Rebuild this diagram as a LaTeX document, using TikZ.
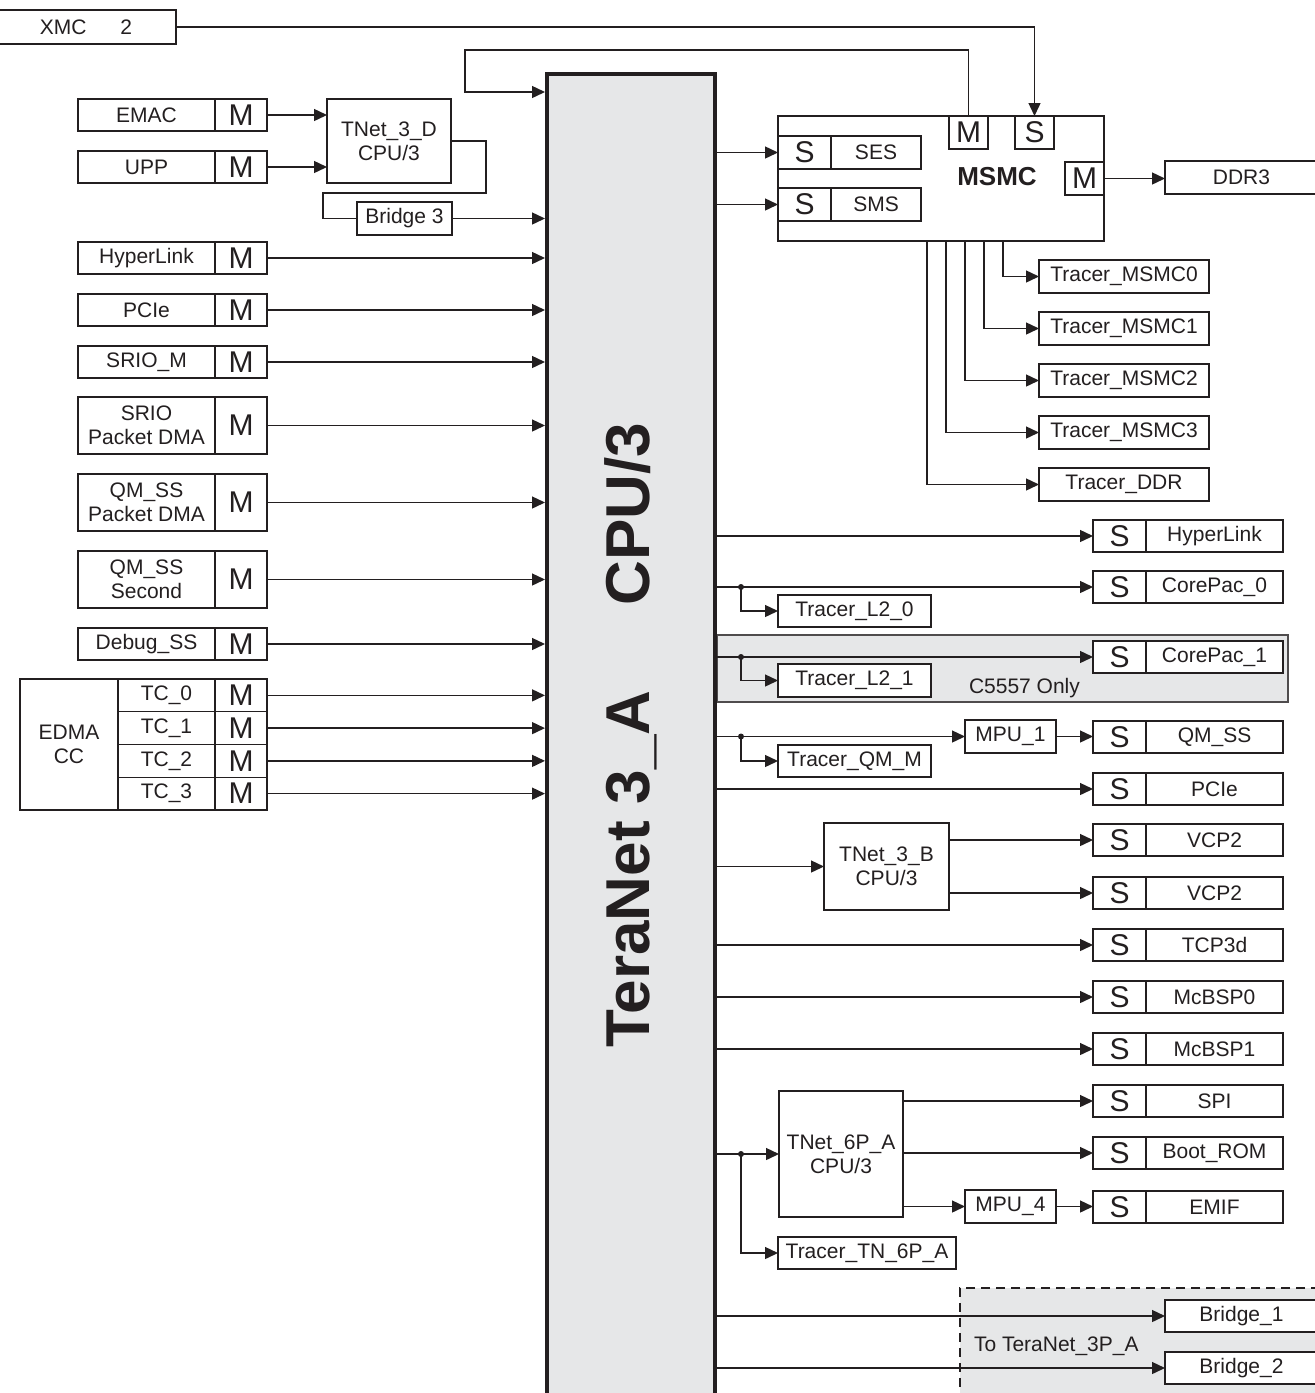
\documentclass[tikz,border=0pt]{standalone}
\usepackage{fontspec}
\setmainfont{Liberation Sans}
\usetikzlibrary{arrows.meta,positioning}
\definecolor{ink}{HTML}{231F20}
\definecolor{panelgray}{HTML}{E6E7E8}

\begin{document}
\begin{tikzpicture}[
  x=1pt, y=-1pt,
  >={Triangle[length=13pt,width=12pt]},
  every node/.style={font=\fontsize{21}{24}\selectfont, inner sep=2pt, outer sep=0pt, text=ink},
  box/.style={draw=ink, fill=white, line width=1.4pt, align=center, anchor=north west},
  blk/.style={box, minimum width=137pt, minimum height=32pt},
  port/.style={box, minimum width=52pt, minimum height=32pt, font=\fontsize{30}{30}\selectfont},
  trc/.style={box, minimum width=170pt, minimum height=33pt},
  link/.style={draw=ink, line width=1.4pt},
  every edge/.style={
    draw=ink,
    ->,
    line width=1.4pt
  }
]
  \useasboundingbox (0,0) rectangle (1315,1393);

  % Shaded zones behind everything
  \node[draw=ink!80, fill=panelgray, line width=1.4pt, anchor=north west,
        minimum width=571pt, minimum height=67pt] (c5557) at (717,635) {};
  \fill[panelgray] (960,1288) rectangle (1320,1400);
  \draw[ink, line width=1.4pt, dash pattern=on 9pt off 6pt] (1320,1288) -- (960,1288) -- (960,1400);

  % The interconnect itself
  \node[draw=ink, fill=panelgray, line width=4pt, anchor=north west, outer sep=2pt,
        minimum width=168pt, minimum height=1340pt] (cpu) at (545,72) {};
  \node[rotate=90, font=\bfseries\fontsize{62}{62}\selectfont] (cpulbl) at (631,735)
    {TeraNet 3\_A\hspace{85pt}CPU/3};

  % Masters on the left
  \node[box, minimum width=180pt, minimum height=34pt] (xmc) at (-4,10) {XMC\hspace{34pt}2};
  \node[blk] (emac) at (78,99) {EMAC};
  \node[port, right=0pt of emac] (emacm) {M};
  \node[blk] (upp) at (78,151) {UPP};
  \node[port, right=0pt of upp] (uppm) {M};
  \node[box, minimum width=124pt, minimum height=84pt] (tn3d) at (327,99) {TNet\_3\_D\\CPU/3};
  \node[box, minimum width=95pt, minimum height=33pt] (br3) at (357,202) {Bridge 3};

  \node[blk] (hlm) at (78,242) {HyperLink};
  \node[port, right=0pt of hlm] (hlmm) {M};
  \node[blk] (pcim) at (78,294) {PCIe};
  \node[port, right=0pt of pcim] (pcimm) {M};
  \node[blk] (sriom) at (78,346) {SRIO\_M};
  \node[port, right=0pt of sriom] (sriomm) {M};
  \node[blk, minimum height=57pt] (srpd) at (78,397) {SRIO\\Packet DMA};
  \node[port, minimum height=57pt, right=0pt of srpd] (srpdm) {M};
  \node[blk, minimum height=57pt] (qmpd) at (78,474) {QM\_SS\\Packet DMA};
  \node[port, minimum height=57pt, right=0pt of qmpd] (qmpdm) {M};
  \node[blk, minimum height=57pt] (qmsec) at (78,551) {QM\_SS\\Second};
  \node[port, minimum height=57pt, right=0pt of qmsec] (qmsecm) {M};
  \node[blk] (dbg) at (78,628) {Debug\_SS};
  \node[port, right=0pt of dbg] (dbgm) {M};

  % EDMA with its transfer controllers
  \node[box, minimum width=98pt, minimum height=131pt] (edma) at (20,679) {EDMA\\CC};
  \node[box, minimum width=97pt, minimum height=32.75pt] (tc0) at (118,679) {TC\_0};
  \node[box, minimum width=97pt, minimum height=32.75pt, below=0pt of tc0] (tc1) {TC\_1};
  \node[box, minimum width=97pt, minimum height=32.75pt, below=0pt of tc1] (tc2) {TC\_2};
  \node[box, minimum width=97pt, minimum height=32.75pt, below=0pt of tc2] (tc3) {TC\_3};
  \node[port, minimum height=32.75pt, right=0pt of tc0] (tc0m) {M};
  \node[port, minimum height=32.75pt, right=0pt of tc1] (tc1m) {M};
  \node[port, minimum height=32.75pt, right=0pt of tc2] (tc2m) {M};
  \node[port, minimum height=32.75pt, right=0pt of tc3] (tc3m) {M};

  % MSMC block
  \node[box, minimum width=326pt, minimum height=125pt] (msmc) at (778,116) {};
  \node[font=\bfseries\fontsize{26}{26}\selectfont] (msmclbl) at (997,177) {MSMC};
  \node[port, minimum width=53pt, minimum height=33pt] (sess) at (778,136) {S};
  \node[box, minimum width=90pt, minimum height=33pt, right=0pt of sess] (ses) {SES};
  \node[port, minimum width=53pt, minimum height=33pt] (smss) at (778,188) {S};
  \node[box, minimum width=90pt, minimum height=33pt, right=0pt of smss] (sms) {SMS};
  \node[port, minimum width=39pt, minimum height=33pt] (msmcmt) at (949,116) {M};
  \node[port, minimum width=39pt, minimum height=33pt] (msmcst) at (1015,116) {S};
  \node[port, minimum width=39pt, minimum height=33pt, anchor=north east] (msmcmr) at (1104,162) {M};
  \node[box, minimum width=153pt, minimum height=33pt] (ddr3) at (1165,161) {DDR3};

  \node[trc] (trm0) at (1039,260) {Tracer\_MSMC0};
  \node[trc] (trm1) at (1039,312) {Tracer\_MSMC1};
  \node[trc] (trm2) at (1039,364) {Tracer\_MSMC2};
  \node[trc] (trm3) at (1039,416) {Tracer\_MSMC3};
  \node[trc] (trddr) at (1039,468) {Tracer\_DDR};

  % Slaves on the right
  \node[port, minimum width=53pt] (hls) at (1093,520) {S};
  \node[blk, right=0pt of hls] (hl) {HyperLink};
  \node[port, minimum width=53pt] (cp0s) at (1093,571) {S};
  \node[blk, right=0pt of cp0s] (cp0) {CorePac\_0};
  \node[port, minimum width=53pt] (cp1s) at (1093,641) {S};
  \node[blk, right=0pt of cp1s] (cp1) {CorePac\_1};
  \node[port, minimum width=53pt] (qms) at (1093,721) {S};
  \node[blk, right=0pt of qms] (qm) {QM\_SS};
  \node[port, minimum width=53pt] (pcis) at (1093,773) {S};
  \node[blk, right=0pt of pcis] (pci) {PCIe};
  \node[port, minimum width=53pt] (vcpas) at (1093,824) {S};
  \node[blk, right=0pt of vcpas] (vcpa) {VCP2};
  \node[port, minimum width=53pt] (vcpbs) at (1093,877) {S};
  \node[blk, right=0pt of vcpbs] (vcpb) {VCP2};
  \node[port, minimum width=53pt] (tcps) at (1093,929) {S};
  \node[blk, right=0pt of tcps] (tcp) {TCP3d};
  \node[port, minimum width=53pt] (mcb0s) at (1093,981) {S};
  \node[blk, right=0pt of mcb0s] (mcb0) {McBSP0};
  \node[port, minimum width=53pt] (mcb1s) at (1093,1033) {S};
  \node[blk, right=0pt of mcb1s] (mcb1) {McBSP1};
  \node[port, minimum width=53pt] (spis) at (1093,1085) {S};
  \node[blk, right=0pt of spis] (spi) {SPI};
  \node[port, minimum width=53pt] (boots) at (1093,1137) {S};
  \node[blk, right=0pt of boots] (boot) {Boot\_ROM};
  \node[port, minimum width=53pt] (emifs) at (1093,1191) {S};
  \node[blk, right=0pt of emifs] (emif) {EMIF};

  % Tracers, MPUs and sub-switches
  \node[box, minimum width=153pt, minimum height=32pt] (tl20) at (778,595) {Tracer\_L2\_0};
  \node[box, minimum width=153pt, minimum height=33pt] (tl21) at (778,664) {Tracer\_L2\_1};
  \node[anchor=west] (c5557lbl) at (967,688) {C5557 Only};
  \node[box, minimum width=91pt, minimum height=33pt] (mpu1) at (965,720) {MPU\_1};
  \node[box, minimum width=153pt, minimum height=32pt] (tqm) at (778,745) {Tracer\_QM\_M};
  \node[box, minimum width=125pt, minimum height=87pt] (tn3b) at (824,823) {TNet\_3\_B\\CPU/3};
  \node[box, minimum width=124pt, minimum height=126pt] (tn6) at (779,1091) {TNet\_6P\_A\\CPU/3};
  \node[box, minimum width=91pt, minimum height=33pt] (mpu4) at (965,1190) {MPU\_4};
  \node[box, minimum width=178pt, minimum height=32pt] (ttn6) at (778,1237) {Tracer\_TN\_6P\_A};

  % Bridges out to the other switch
  \node[box, minimum width=153pt, minimum height=32pt] (br1) at (1165,1300) {Bridge\_1};
  \node[box, minimum width=153pt, minimum height=32pt] (br2) at (1165,1352) {Bridge\_2};
  \node[anchor=west] (tolbl) at (972,1346) {To TeraNet\_3P\_A};

  % Masters into the switch
  \path (emacm.east) edge (emacm.east -| tn3d.west);
  \path (uppm.east) edge (uppm.east -| tn3d.west);
  \coordinate (d1) at (486,193);
  \coordinate (d2) at (323,193);
  \draw[link] (tn3d.east) -| (d1) -- (d2) |- (br3.west);
  \path (br3.east) edge (br3.east -| cpu.west);
  \path (hlmm.east) edge (hlmm.east -| cpu.west);
  \path (pcimm.east) edge (pcimm.east -| cpu.west);
  \path (sriomm.east) edge (sriomm.east -| cpu.west);
  \path (srpdm.east) edge (srpdm.east -| cpu.west);
  \path (qmpdm.east) edge (qmpdm.east -| cpu.west);
  \path (qmsecm.east) edge (qmsecm.east -| cpu.west);
  \path (dbgm.east) edge (dbgm.east -| cpu.west);
  \path (tc0m.east) edge (tc0m.east -| cpu.west);
  \path (tc1m.east) edge (tc1m.east -| cpu.west);
  \path (tc2m.east) edge (tc2m.east -| cpu.west);
  \path (tc3m.east) edge (tc3m.east -| cpu.west);

  % MSMC connections
  \draw[link, ->] (xmc.east) -| (msmcst.north);
  \coordinate (loop) at (465,50);
  \draw[link, ->] (msmcmt.north) |- (loop) |- (cpu.west |- 0,92);
  \path (cpu.east |- sess.west) edge (sess.west);
  \path (cpu.east |- smss.west) edge (smss.west);
  \path (msmcmr.east) edge (msmcmr.east -| ddr3.west);
  \draw[link, ->] ([xshift=225pt]msmc.south west) |- (trm0.west);
  \draw[link, ->] ([xshift=206pt]msmc.south west) |- (trm1.west);
  \draw[link, ->] ([xshift=187pt]msmc.south west) |- (trm2.west);
  \draw[link, ->] ([xshift=168pt]msmc.south west) |- (trm3.west);
  \draw[link, ->] ([xshift=149pt]msmc.south west) |- (trddr.west);

  % Switch out to the slaves
  \coordinate (j0) at (cp0s.west -| 741,0);
  \coordinate (j1) at (cp1s.west -| 741,0);
  \coordinate (j2) at (mpu1.west -| 741,0);
  \coordinate (j3) at (tn6.west -| 741,0);
  \path (cpu.east |- hls.west) edge (hls.west);
  \path (cpu.east |- cp0s.west) edge (cp0s.west);
  \draw[link, ->] (j0) |- (tl20.west);
  \path (cpu.east |- cp1s.west) edge (cp1s.west);
  \draw[link, ->] (j1) |- (tl21.west);
  \path (cpu.east |- mpu1.west) edge (mpu1.west);
  \path (mpu1.east) edge (mpu1.east -| qms.west);
  \draw[link, ->] (j2) |- (tqm.west);
  \path (cpu.east |- pcis.west) edge (pcis.west);
  \path (cpu.east |- tn3b.west) edge (tn3b.west);
  \path (tn3b.east |- vcpas.west) edge (vcpas.west);
  \path (tn3b.east |- vcpbs.west) edge (vcpbs.west);
  \path (cpu.east |- tcps.west) edge (tcps.west);
  \path (cpu.east |- mcb0s.west) edge (mcb0s.west);
  \path (cpu.east |- mcb1s.west) edge (mcb1s.west);
  \path (cpu.east |- tn6.west) edge (tn6.west);
  \path (tn6.east |- spis.west) edge (spis.west);
  \path (tn6.east |- boots.west) edge (boots.west);
  \path (tn6.east |- mpu4.west) edge (mpu4.west);
  \path (mpu4.east) edge (mpu4.east -| emifs.west);
  \draw[link, ->] (j3) |- (ttn6.west);
  \path (cpu.east |- br1.west) edge (br1.west);
  \path (cpu.east |- br2.west) edge (br2.west);
  \foreach \j in {j0,j1,j2,j3}
    \fill[ink] (\j) circle (3pt);

\end{tikzpicture}
\end{document}
